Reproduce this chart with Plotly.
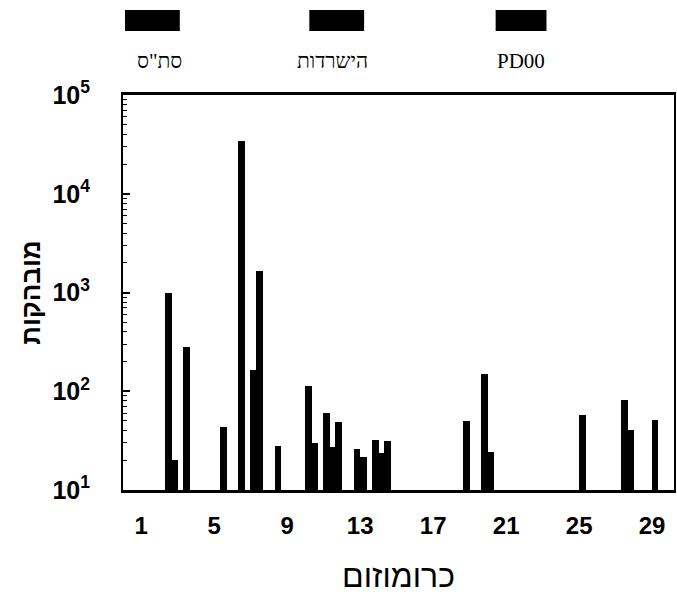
import plotly.graph_objects as go

# ---- data ----
series_names = ['סת"ס', 'הישרדות', 'PD00']

# series 1 (first slot of each chromosome group)
s1_chrom = [7, 10, 11, 13, 14, 20, 25, 29]
s1_vals = [164, 114, 60, 21.7, 23.5, 24.5, 58, 51]

# series 2 (middle slot)
s2_chrom = [2, 3, 5, 6, 7, 8, 10, 11, 14, 27]
s2_vals = [980, 279, 43, 34200, 1660, 28, 29.7, 27.1, 31.6, 82]

# series 3 (last slot)
s3_chrom = [2, 11, 12, 13, 18, 19, 27]
s3_vals = [20.1, 49.2, 26, 32.1, 50.3, 149, 40.5]

x_tick_vals = [1, 5, 9, 13, 17, 21, 25, 29]
x_tick_text = ["1", "5", "9", "13", "17", "21", "25", "29"]
y_tick_vals = [10, 100, 1000, 10000, 100000]
y_tick_text = ["10<sup>1</sup>", "10<sup>2</sup>", "10<sup>3</sup>", "10<sup>4</sup>", "10<sup>5</sup>"]
y_minor_vals = [m * 10 ** d for d in range(1, 5) for m in range(2, 10)]

x_title = "כרומוזום"
y_title = "מובהקות"

# ---- figure ----
fig = go.Figure()
all_series = [(s1_chrom, s1_vals), (s2_chrom, s2_vals), (s3_chrom, s3_vals)]
for i, (xs, ys) in enumerate(all_series):
    fig.add_trace(go.Bar(
        x=xs, y=ys, name=series_names[i],
        offset=i / 3.0 - 0.02, width=0.37,
        marker=dict(color="black", line=dict(width=0)),
        showlegend=False,
    ))

W, H = 677, 601
ml, mr, mt, mb = 123, 1, 95, 111
pw, ph = W - ml - mr, H - mt - mb


def px_x(p):
    return (p - ml) / pw


def px_y(p):
    return (H - mb - p) / ph


# legend: black boxes with labels underneath
box_px = [(125, 180), (310, 365), (497, 548)]
label_cx = [160, 333, 522]
for (x0, x1), cx, name in zip(box_px, label_cx, series_names):
    fig.add_shape(type="rect", xref="paper", yref="paper",
                  x0=px_x(x0), x1=px_x(x1), y0=px_y(31), y1=px_y(10),
                  fillcolor="black", line=dict(width=0))
    fig.add_annotation(xref="paper", yref="paper", x=px_x(cx), y=px_y(61),
                       text=name, showarrow=False, xanchor="center", yanchor="middle",
                       font=dict(family="Liberation Serif, DejaVu Serif", size=21, color="black"))

fig.update_layout(
    width=W, height=H,
    margin=dict(l=ml, r=mr, t=mt, b=mb, pad=0),
    paper_bgcolor="white", plot_bgcolor="white",
    barmode="overlay", bargap=0,
    showlegend=False,
    font=dict(family="Liberation Sans, DejaVu Sans", color="black"),
)

fig.update_xaxes(
    range=[0, 30.2],
    tickvals=x_tick_vals, ticktext=x_tick_text,
    tickfont=dict(family="Liberation Sans, Arial", size=24, weight="bold", color="black"),
    ticks="", ticklabelstandoff=12,
    showgrid=False, zeroline=False,
    showline=True, linecolor="black", linewidth=2.5, mirror=True,
    title=dict(text=x_title, font=dict(family="Liberation Sans, DejaVu Sans", size=32, color="black"),
               standoff=28),
)

fig.update_yaxes(
    type="log", range=[1, 5],
    tickvals=y_tick_vals, ticktext=y_tick_text,
    tickfont=dict(family="Liberation Sans, Arial", size=25, weight="bold", color="black"),
    ticks="inside", ticklen=7, tickwidth=1.5, tickcolor="black",
    minor=dict(tickvals=y_minor_vals, ticks="inside", ticklen=4, tickwidth=1,
               tickcolor="black", showgrid=False),
    ticklabelstandoff=26,
    showgrid=False, zeroline=False,
    showline=True, linecolor="black", linewidth=2, mirror=True,
    title=dict(text=y_title, font=dict(family="Liberation Sans, DejaVu Sans", size=26, weight="bold", color="black"),
               standoff=4),
)

fig.write_html("out.html")
